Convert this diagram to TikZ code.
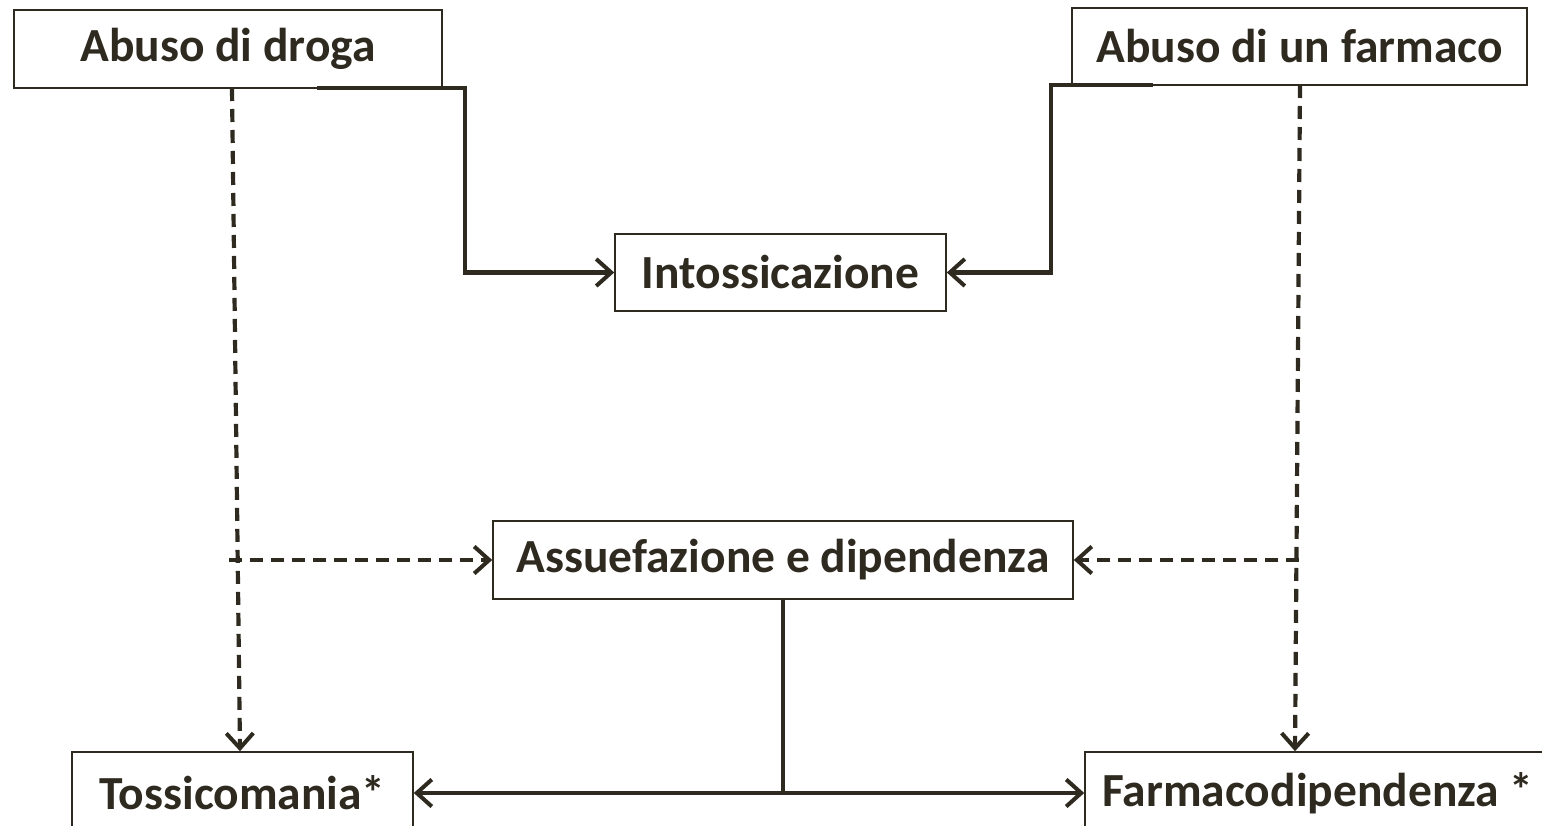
\documentclass[tikz,border=0pt]{standalone}
\usepackage{fontspec}
\setmainfont{Carlito}
\usetikzlibrary{arrows.meta,calc}
\definecolor{ink}{RGB}{46,42,32}
\tikzset{
  box/.style={draw=ink, line width=1.6pt, inner sep=0pt, text=ink,
    font=\fontsize{47.5}{56}\selectfont\bfseries},
  solidcon/.style={draw=ink, line width=4.6pt},
  dashcon/.style={draw=ink, line width=4.2pt, dash pattern=on 13pt off 8pt},
  tip/.style={-{Straight Barb[length=15pt,width=27pt,line width=4pt]}},
}
\begin{document}
\begin{tikzpicture}[x=1pt,y=-1pt]
\useasboundingbox (0,0) rectangle (1542,826);
\clip (0,0) rectangle (1542,826);
\fill[white] (0,0) rectangle (1542,826);
\node[box, minimum width=428pt, minimum height=78pt] (drug) at (228,49) {Abuso di droga};
\node[box, minimum width=455pt, minimum height=77pt] (farm) at (1299.5,46.5) {Abuso di un farmaco};
\node[box, minimum width=331pt, minimum height=77pt] (intox) at (780.5,272.5) {Intossicazione};
\node[box, minimum width=580pt, minimum height=78pt] (assu) at (783,560) {Assuefazione e dipendenza};
\node[box, minimum width=341pt, minimum height=82pt] (toss) at (242.5,793) {Tossicomania*};
\node[box, minimum width=466pt, minimum height=82pt] (fdip) at (1318,793) {Farmacodipendenza *};
% solid connectors to Intossicazione
\coordinate (s1) at (317,88);
\coordinate (s2) at (1153,85);
\draw[solidcon, tip] (s1) -- (465,88) |- (intox.west);
\draw[solidcon, tip] (s2) -- (1051,85) |- (intox.east);
% dashed connectors
\coordinate (d1) at (232,88);
\coordinate (d2) at (1300,85);
\coordinate (b1) at (229,560);
\coordinate (b2) at (1299,560);
\draw[dashcon, tip] (d1) -- ($(toss.north)+(-2.5,0)$);
\draw[dashcon, tip] (b1) -- (assu.west);
\draw[dashcon, tip] (d2) -- ($(fdip.north)+(-23,0)$);
\draw[dashcon, tip] (b2) -- (assu.east);
% bottom connectors
\coordinate (j) at (assu.south |- toss.east);
\draw[solidcon] (assu.south) -- (j);
\draw[solidcon, tip] (j) -- (toss.east);
\draw[solidcon, tip] (j) -- (fdip.west);
\end{tikzpicture}
\end{document}
